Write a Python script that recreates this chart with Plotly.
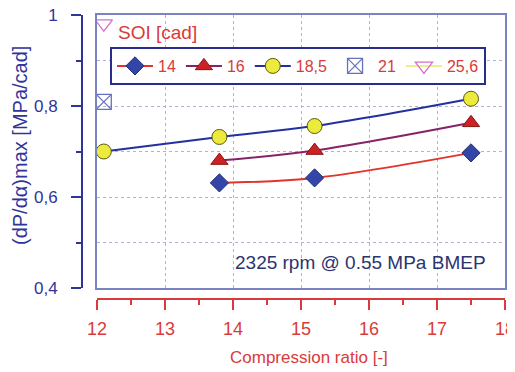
import plotly.graph_objects as go

# ---- data ----
cr_14 = [13.8, 15.2, 17.5]
dp_14 = [0.631, 0.642, 0.697]
cr_16 = [13.8, 15.2, 17.5]
dp_16 = [0.680, 0.702, 0.763]
cr_185 = [12.1, 13.8, 15.2, 17.5]
dp_185 = [0.700, 0.732, 0.756, 0.816]
cr_21 = [12.1]
dp_21 = [0.809]
cr_256 = [12.1]
dp_256 = [0.981]

x_ticks = [12, 13, 14, 15, 16, 17, 18]
y_ticks = [0.4, 0.6, 0.8, 1.0]
y_tick_labels = ["0,4", "0,6", "0,8", "1"]

FONT = "Liberation Sans, Arial, sans-serif"
RED = "#d93a3a"
BLUE = "#2f3598"
FRAME = "#7a82bf"
GRID = "#aeb2da"

fig = go.Figure()

fig.add_trace(go.Scatter(
    x=cr_14, y=dp_14, name="14", mode="lines+markers",
    line=dict(color="#e2342c", width=2, shape="spline", smoothing=1),
    marker=dict(symbol="diamond", size=14, color="#3445a8",
                line=dict(color="#26307a", width=1))))
fig.add_trace(go.Scatter(
    x=cr_16, y=dp_16, name="16", mode="lines+markers",
    line=dict(color="#86226a", width=2, shape="spline", smoothing=1),
    marker=dict(symbol="triangle-up", size=15, color="#cc2226",
                line=dict(color="#8a1414", width=1))))
fig.add_trace(go.Scatter(
    x=cr_185, y=dp_185, name="18,5", mode="lines+markers",
    line=dict(color="#2230a0", width=2, shape="spline", smoothing=1),
    marker=dict(symbol="circle", size=15, color="#ecea3c",
                line=dict(color="#5a5a14", width=1))))
fig.add_trace(go.Scatter(
    x=cr_21, y=dp_21, name="21", mode="markers",
    marker=dict(symbol="square-x-open", size=15, color="#6672bd",
                line=dict(width=1.3))))
fig.add_trace(go.Scatter(
    x=cr_256, y=dp_256, name="25,6", mode="lines+markers",
    line=dict(color="#eeee90", width=2),
    marker=dict(symbol="triangle-down-open", size=15, color="#d272cc",
                line=dict(width=1.3))))

# dummy trace so offset axes are drawn
fig.add_trace(go.Scatter(x=[], y=[], xaxis="x2", yaxis="y2",
                         showlegend=False, hoverinfo="skip"))

# page body has an 8px default margin: lay out in window pixels, then offset
OFF = 8
WIN_W, WIN_H = 515, 372
W, H = WIN_W - OFF, WIN_H - OFF
AX_Y_X = 82      # window x of the offset y-axis line
PLOT_L = 97      # window x of plot frame left
PLOT_R = 505     # window x of plot frame right
PLOT_T = 15      # window y of plot frame top
PLOT_B = 288     # window y of plot frame bottom
AX_X_Y = 299     # window y of the offset x-axis line

ml = AX_Y_X - OFF
mr = W - (PLOT_R - OFF)
mt = PLOT_T - OFF
mb = H - (AX_X_Y - OFF)
pw = W - ml - mr
ph = H - mt - mb


def px(xw):
    return (xw - AX_Y_X) / pw


def py(yw):
    return (AX_X_Y - yw) / ph


fig.update_layout(
    width=W, height=H,
    margin=dict(l=ml, r=mr, t=mt, b=mb, autoexpand=False),
    paper_bgcolor="white", plot_bgcolor="white",
    font=dict(family=FONT, size=17, color=BLUE),
    showlegend=True,
    legend=dict(orientation="h", x=px(110), y=py(47),
                xanchor="left", yanchor="top",
                bgcolor="white", bordercolor="#2a2c8c", borderwidth=2,
                font=dict(family=FONT, size=16, color=RED),
                itemwidth=36, tracegroupgap=0),
    xaxis=dict(domain=[px(PLOT_L), 1], range=[12, 18],
               showgrid=True, gridcolor=GRID, griddash="dot", gridwidth=1,
               dtick=1, tick0=12, showline=True, mirror=True,
               linecolor=FRAME, linewidth=1.5, showticklabels=False,
               ticks="", zeroline=False, automargin=False),
    yaxis=dict(domain=[py(PLOT_B), 1], range=[0.4, 1.0],
               showgrid=True, gridcolor=GRID, griddash="dot", gridwidth=1,
               dtick=0.1, tick0=0.4, showline=True, mirror=True,
               linecolor=FRAME, linewidth=1.5, showticklabels=False,
               ticks="", zeroline=False, automargin=False),
    xaxis2=dict(overlaying="x", anchor="free", position=0, range=[12, 18],
                tickvals=x_ticks, ticks="outside", ticklen=10, tickwidth=2,
                tickcolor=RED, showline=True, linecolor=RED, linewidth=2,
                showgrid=False, zeroline=False, automargin=False,
                tickfont=dict(family=FONT, size=18, color=RED),
                ticklabelstandoff=3, ticklabeloverflow="allow",
                minor=dict(dtick=0.5, tick0=12, ticks="outside", ticklen=5,
                           tickwidth=1.5, tickcolor=RED, showgrid=False)),
    yaxis2=dict(overlaying="y", anchor="free", position=0, side="left",
                range=[0.4, 1.0], tickvals=y_ticks, ticktext=y_tick_labels,
                ticks="outside", ticklen=10, tickwidth=2, tickcolor=BLUE,
                showline=True, linecolor=BLUE, linewidth=2,
                showgrid=False, zeroline=False, automargin=False,
                tickfont=dict(family=FONT, size=17, color=BLUE),
                ticklabelstandoff=10, ticklabeloverflow="allow",
                minor=dict(dtick=0.1, tick0=0.4, ticks="outside", ticklen=5,
                           tickwidth=1.5, tickcolor=BLUE, showgrid=False)),
    annotations=[
        dict(text="(dP/dα)max [MPa/cad]", xref="paper", yref="paper",
             x=px(20), y=py(146), textangle=-90,
             xanchor="center", yanchor="middle", showarrow=False,
             font=dict(family=FONT, size=20, color=BLUE)),
        dict(text="Compression ratio [-]", xref="paper", yref="paper",
             x=px(309), y=py(357),
             xanchor="center", yanchor="middle", showarrow=False,
             font=dict(family=FONT, size=17, color=RED)),
        dict(text="SOI [cad]", xref="paper", yref="paper",
             x=px(116), y=py(32),
             xanchor="left", yanchor="middle", showarrow=False,
             font=dict(family=FONT, size=19, color=RED)),
        dict(text="2325 rpm @ 0.55 MPa BMEP", xref="paper", yref="paper",
             x=px(488), y=py(262),
             xanchor="right", yanchor="middle", showarrow=False,
             font=dict(family=FONT, size=19, color="#2c3470")),
    ],
)

fig.write_html("out.html")
